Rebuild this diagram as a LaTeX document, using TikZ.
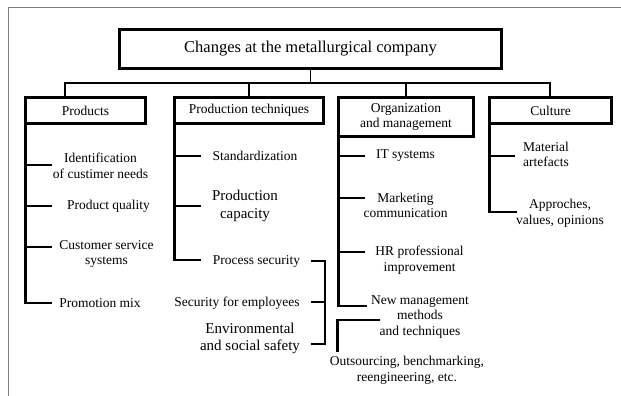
\documentclass[tikz,border=0pt]{standalone}
\usepackage{fontspec}
\setmainfont{Liberation Serif}
\newcommand\myBody{\fontsize{13.5}{15.5}\selectfont}
\newcommand\myBig{\fontsize{15}{17.5}\selectfont}
\newcommand\myTitle{\fontsize{16.5}{19}\selectfont}
\begin{document}
\begin{tikzpicture}[x=1pt,y=-1pt,
  ln/.style={line width=2.9pt,line join=miter},
  box/.style={draw,line width=2.9pt,inner sep=0pt,align=center,font=\myBody},
  txt/.style={inner sep=0pt,align=center,font=\myBody},
  big/.style={inner sep=0pt,align=center,font=\myBig},
  frame/.style={draw=black!50,line width=1pt}]
\useasboundingbox (0,0) rectangle (621,396);
% outer frame
\coordinate (f1) at (8,396);
\coordinate (f2) at (8,8);
\coordinate (f3) at (621,8);
\draw[frame] (f1) -- (f2) -- (f3);

% boxes
\node[box,minimum width=382pt,minimum height=39pt,font=\myTitle] (title) at (310.5,49) {Changes at the metallurgical company};
\node[box,minimum width=120pt,minimum height=26pt] (prod) at (85.5,110.5) {Products};
\node[box,minimum width=149pt,minimum height=26pt] (tech) at (249,110.5) {Production techniques};
\node[box,minimum width=135pt,minimum height=39pt] (org) at (406,117) {Organization\\and management};
\node[box,minimum width=122pt,minimum height=26pt] (cult) at (550.5,110.5) {Culture};

% bus
\coordinate (bL) at (65,83);
\coordinate (bR) at (550,83);
\draw[line width=1.2pt] (title.south) -- (title.south |- bL);
\draw[ln] (bL |- prod.north) -- (bL) -- (bR) -- (bR |- cult.north);
\draw[ln] (tech.north |- bL) -- (tech.north);
\draw[ln] (org.north |- bL) -- (org.north);

% Products column
\node[txt] (id) at (100.5,166) {Identification\\of custimer needs};
\node[txt] (pq) at (108.5,206) {Product quality};
\node[txt] (cs) at (106.5,254) {Customer service\\systems};
\node[txt] (pm) at (100,303) {Promotion mix};
\coordinate (pS) at (25.5,124);
\coordinate (pb1) at (52,165);
\coordinate (pb2) at (52,206);
\coordinate (pb3) at (52,247);
\coordinate (pb4) at (52,303);
\draw[ln] (pS) |- (pb4);
\draw[ln] (pS |- pb1) -- (pb1);
\draw[ln] (pS |- pb2) -- (pb2);
\draw[ln] (pS |- pb3) -- (pb3);

% Production techniques column
\node[txt] (std) at (255,156) {Standardization};
\node[big] (cap) at (245,206) {Production\\capacity};
\node[txt] (ps) at (256.5,261) {Process security};
\node[txt] (se) at (237,303) {Security for employees};
\node[big] (env) at (250,338.5) {Environmental\\and social safety};
\coordinate (tS) at (174.5,124);
\coordinate (tb1) at (201,156);
\coordinate (tb2) at (201,206);
\coordinate (tb3) at (201,260);
\draw[ln] (tS) |- (tb3);
\draw[ln] (tS |- tb1) -- (tb1);
\draw[ln] (tS |- tb2) -- (tb2);

% bracket joining the three security items
\coordinate (k1) at (311,261);
\coordinate (k2) at (311,302);
\coordinate (k3) at (311,344);
\coordinate (kt) at (325,261);
\coordinate (kb) at (325,344);
\draw[ln] (k1) -- (kt) -- (kb) -- (k3);
\draw[ln] (k2) -- (k2 -| kt);

% Organization column
\node[txt] (it) at (405.5,156) {IT systems};
\node[txt] (mk) at (405.5,205.5) {Marketing\\communication};
\node[txt] (hr) at (419.5,260) {HR professional\\improvement};
\node[txt] (nm) at (420,317) {New management\\methods\\and techniques};
\node[txt] (out) at (407,370.5) {Outsourcing, benchmarking,\\reengineering, etc.};
\coordinate (oS) at (338.5,137);
\coordinate (ob1) at (365,156);
\coordinate (ob2) at (365,198);
\coordinate (ob3) at (365,252);
\coordinate (ob4) at (367,306);
\draw[ln] (oS) |- (ob4);
\draw[ln] (oS |- ob1) -- (ob1);
\draw[ln] (oS |- ob2) -- (ob2);
\draw[ln] (oS |- ob3) -- (ob3);
\coordinate (l1) at (380,320);
\coordinate (l2) at (337.5,320);
\coordinate (l3) at (337.5,352);
\draw[ln] (l1) -- (l2) -- (l3);

% Culture column
\node[txt,align=left,anchor=west] (mat) at (523,154.5) {Material\\artefacts};
\node[txt] (ap) at (560,213.5) {Approches,\\values, opinions};
\coordinate (cS) at (489.5,124);
\coordinate (cb1) at (515,156);
\coordinate (cb2) at (517,212);
\draw[ln] (cS) |- (cb2);
\draw[ln] (cS |- cb1) -- (cb1);
\end{tikzpicture}
\end{document}
